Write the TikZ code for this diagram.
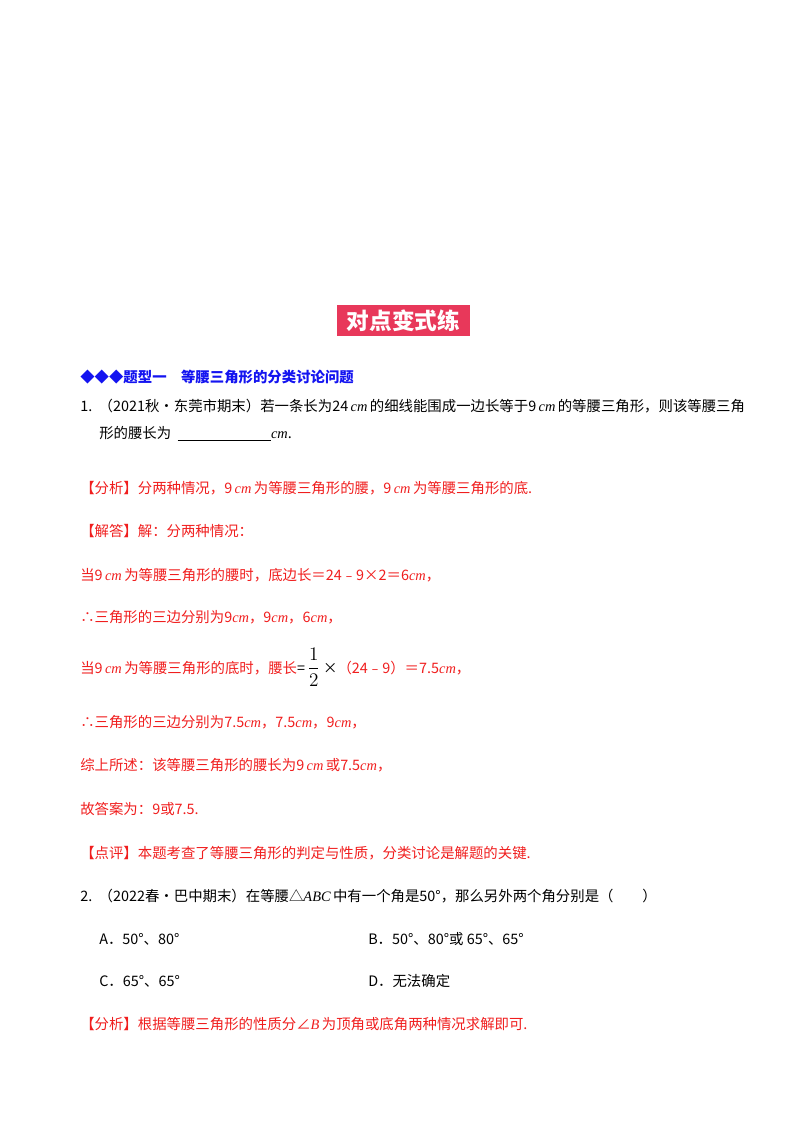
\documentclass[tikz,border=0pt]{standalone}
\usepackage{fontspec}
\setmainfont{Liberation Serif}
\newfontfamily\cjk{Noto Sans CJK SC}
\newcommand{\cmi}{\,{\rmfamily\itshape cm}\,}
\definecolor{rd}{RGB}{240,30,30}
\definecolor{bl}{RGB}{20,20,240}
\definecolor{ttl}{RGB}{232,56,90}
\begin{document}
\begin{tikzpicture}[x=0.75pt,y=-0.75pt,
  t/.style={anchor=west,inner sep=0pt,font=\cjk\fontsize{10.8}{12}\selectfont},
  r/.style={t,text=rd}]
\useasboundingbox (0,0) rectangle (800,1132);
\fill[ttl] (337,305) rectangle (470,336);
\node[font=\cjk\bfseries\fontsize{17}{18}\selectfont,text=white] (title) at (403.5,320.5) {对点变式练};
\node[t,text=bl,font=\cjk\bfseries\fontsize{10.8}{12}\selectfont] (h) at (80,377) {◆◆◆题型一\quad 等腰三角形的分类讨论问题};
\node[t] (q1) at (80,406) {1.\ \ （2021秋•东莞市期末）若一条长为24\cmi{}的细线能围成一边长等于9\cmi{}的等腰三角形，则该等腰三角};
\node[t] (q1b) at (99,434) {形的腰长为\ \ \underline{\hspace{70pt}}{\rmfamily\itshape cm}.};
\node[r] (a1) at (80,488) {【分析】分两种情况，9\cmi{}为等腰三角形的腰，9\cmi{}为等腰三角形的底.};
\node[r] (a2) at (80,531) {【解答】解：分两种情况：};
\node[r] (a3) at (80,575) {当9\cmi{}为等腰三角形的腰时，底边长＝24﹣9×2＝6{\rmfamily\itshape cm}，};
\node[r] (a4) at (80,617) {∴三角形的三边分别为9{\rmfamily\itshape cm}，9{\rmfamily\itshape cm}，6{\rmfamily\itshape cm}，};
\node[r] (a5) at (80,667) {当9\cmi{}为等腰三角形的底时，腰长\textcolor{black}{=\,\fontsize{14}{14}\selectfont$\displaystyle\frac{1}{2}$\,\fontsize{10.8}{12}\selectfont×}（24﹣9）＝7.5{\rmfamily\itshape cm}，};
\node[r] (a6) at (80,722) {∴三角形的三边分别为7.5{\rmfamily\itshape cm}，7.5{\rmfamily\itshape cm}，9{\rmfamily\itshape cm}，};
\node[r] (a7) at (80,765) {综上所述：该等腰三角形的腰长为9\cmi{}或7.5{\rmfamily\itshape cm}，};
\node[r] (a8) at (80,809) {故答案为：9或7.5.};
\node[r] (a9) at (80,853) {【点评】本题考查了等腰三角形的判定与性质，分类讨论是解题的关键.};
\node[t] (q2) at (80,896) {2.\ \ （2022春•巴中期末）在等腰△{\rmfamily\itshape ABC}\,中有一个角是50°，那么另外两个角分别是（\qquad）};
\node[t] (oA) at (99,939) {A．50°、80°};
\node[t] (oB) at (368,939) {B．50°、80°或 65°、65°};
\node[t] (oC) at (99,981) {C．65°、65°};
\node[t] (oD) at (368,981) {D．无法确定};
\node[r] (b1) at (80,1024) {【分析】根据等腰三角形的性质分∠{\rmfamily\itshape B}\,为顶角或底角两种情况求解即可.};
\end{tikzpicture}
\end{document}
